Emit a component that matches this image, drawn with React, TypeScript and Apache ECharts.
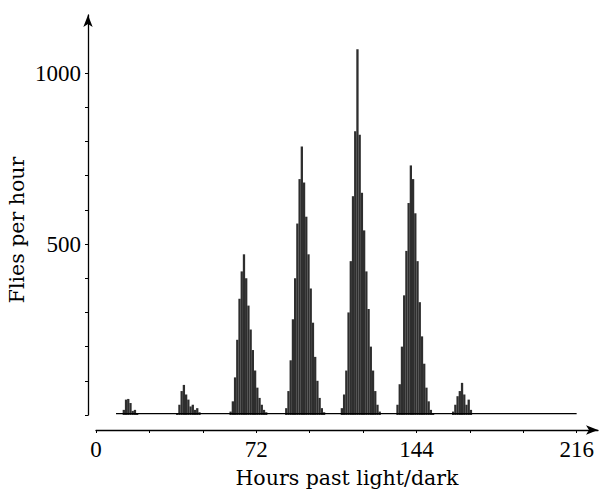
import React, { useEffect, useRef } from "react";
import * as echarts from "echarts";

// Start hour of the first one-hour bin of each daily emergence peak
const peakStartHours = [12, 36, 60, 85, 110, 135, 160];
// Flies per hour, one value per hourly bin, for each peak
const peak1 = [15, 45, 47, 35, 12, 15, 5];
const peak2 = [5, 30, 70, 88, 60, 45, 25, 30, 15, 20, 8];
const peak3 = [10, 40, 110, 220, 340, 420, 470, 400, 320, 250, 190, 130, 80, 50, 30, 15, 8];
const peak4 = [20, 70, 160, 280, 400, 560, 690, 785, 680, 580, 470, 370, 270, 170, 100, 50, 20, 8];
const peak5 = [20, 60, 130, 300, 450, 640, 830, 1070, 820, 650, 540, 420, 310, 200, 130, 70, 30, 10];
const peak6 = [30, 90, 200, 350, 480, 620, 730, 690, 590, 450, 330, 230, 150, 80, 40, 15, 5];
const peak7 = [10, 30, 55, 70, 94, 60, 30, 45, 15];
const peaks = [peak1, peak2, peak3, peak4, peak5, peak6, peak7];

// Low background level recorded through the whole run
const baselineHours = [9, 216];
const baselineFlies = [4, 4];

const xTickValues = [0, 24, 48, 72, 96, 120, 144, 168, 192, 216];
const xLabelValues = [0, 72, 144, 216];
const yTickValues = [0, 100, 200, 300, 400, 500, 600, 700, 800, 900, 1000];
const yLabelValues = [500, 1000];

const xTitle = "Hours past light/dark";
const yTitle = "Flies per hour";

export default function App() {
  const ref = useRef<HTMLDivElement>(null);
  useEffect(() => {
    const chart = echarts.init(ref.current!, null, { renderer: "svg" });
    const barData: number[][] = [];
    peaks.forEach((p, i) =>
      p.forEach((v, j) => barData.push([peakStartHours[i] + j + 0.5, v]))
    );
    const baseData = baselineHours.map((h, i) => [h, baselineFlies[i]]);
    const labelFont = "'Liberation Serif', serif";
    const titleFont = "'DejaVu Serif', serif";
    chart.setOption({
      animation: false,
      backgroundColor: "#fff",
      grid: { left: 96, right: 14, top: 15, bottom: 80 },
      xAxis: {
        type: "value",
        min: 0,
        max: 225.6,
        offset: 15,
        splitLine: { show: false },
        axisLine: {
          onZero: false,
          lineStyle: { color: "#000", width: 1.3 },
          symbol: ["none", "arrow"],
          symbolSize: [7, 12],
        },
        axisTick: { customValues: xTickValues, length: 3, lineStyle: { color: "#000" } },
        axisLabel: {
          customValues: xLabelValues,
          formatter: (v: number) => String(v),
          fontSize: 23,
          color: "#000",
          fontFamily: labelFont,
          margin: 8,
        },
        name: xTitle,
        nameLocation: "middle",
        nameGap: 37,
        nameTextStyle: { fontSize: 20.5, color: "#000", fontFamily: titleFont },
      },
      yAxis: {
        type: "value",
        min: 0,
        max: 1170,
        offset: 8,
        splitLine: { show: false },
        axisLine: {
          onZero: false,
          lineStyle: { color: "#000", width: 1.3 },
          symbol: ["none", "arrow"],
          symbolSize: [7, 12],
        },
        axisTick: { customValues: yTickValues, length: 3, lineStyle: { color: "#000" } },
        axisLabel: {
          customValues: yLabelValues,
          formatter: (v: number) => String(v),
          fontSize: 23,
          color: "#000",
          fontFamily: labelFont,
          margin: 7,
        },
      },
      graphic: [
        {
          type: "text",
          x: 17,
          y: 230,
          rotation: Math.PI / 2,
          style: {
            text: yTitle,
            font: `20.5px ${titleFont}`,
            fill: "#000",
            align: "center",
            verticalAlign: "middle",
          },
        },
      ],
      series: [
        {
          type: "bar",
          data: barData,
          barWidth: 2.3,
          itemStyle: { color: "#2e2e2e" },
        },
        {
          type: "line",
          data: baseData,
          symbol: "none",
          lineStyle: { color: "#000", width: 1.2 },
          z: 3,
        },
      ],
    });
    return () => chart.dispose();
  }, []);
  return (
    <div
      ref={ref}
      style={{ position: "fixed", left: 0, top: 0, width: 612, height: 495 }}
    />
  );
}
